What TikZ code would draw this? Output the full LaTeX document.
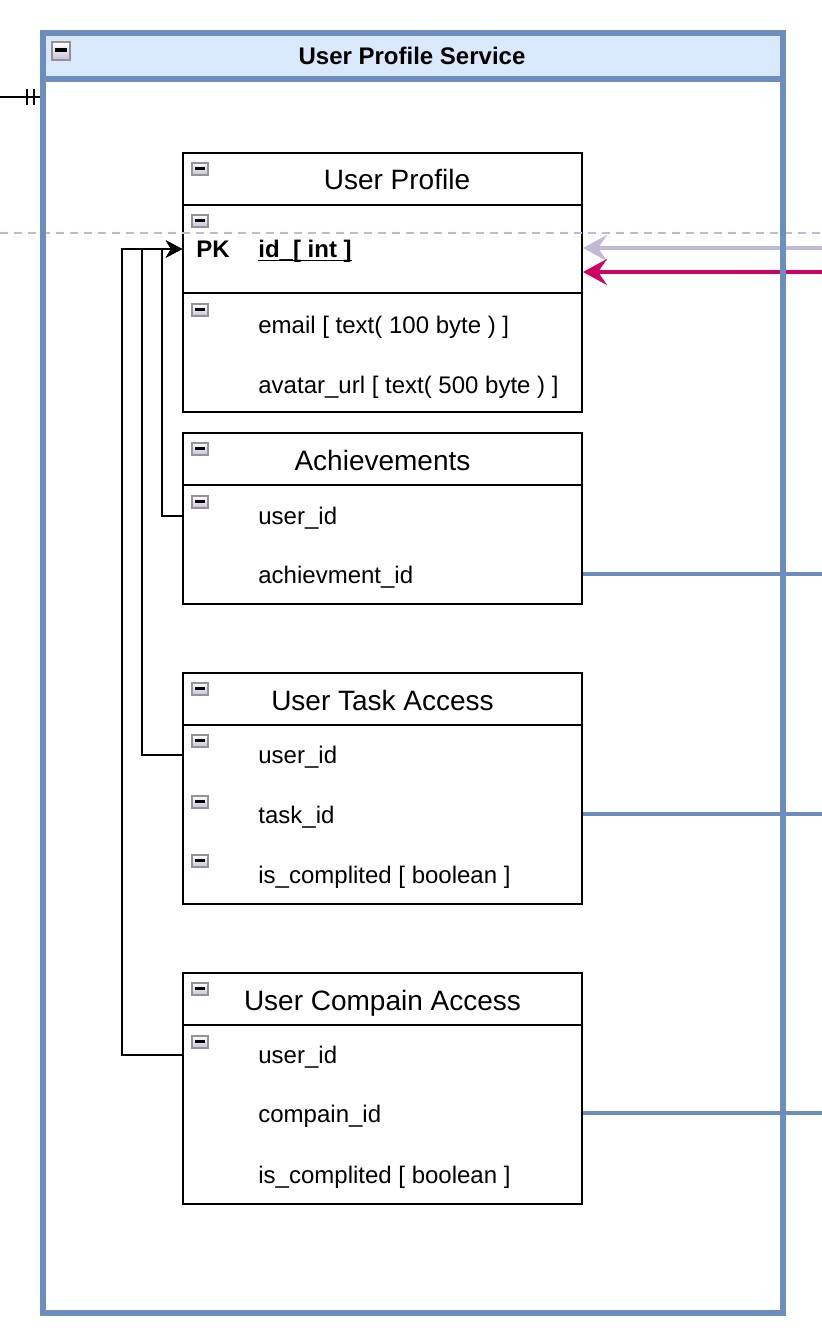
\documentclass[tikz,border=0pt]{standalone}
\usepackage{fontspec}
\setmainfont{Liberation Sans}
\usetikzlibrary{arrows.meta}
\definecolor{UPBlue}{HTML}{6C8EBF}
\definecolor{UPHead}{HTML}{DAE8FC}
\definecolor{UPLilac}{HTML}{C3B9D6}
\definecolor{UPMagenta}{HTML}{CC0066}
\definecolor{UPIcon}{HTML}{939393}
\definecolor{UPIconLow}{HTML}{C9BFDD}

\begin{document}
\begin{tikzpicture}[x=0.5pt,y=-0.5pt,
  tbl/.style={draw,line width=1pt,fill=white,rectangle,inner sep=0pt,minimum width=199.5pt},
  ttl/.style={inner sep=0pt,text height=10pt,text depth=0pt,font=\fontsize{14}{16}\selectfont},
  fld/.style={anchor=west,inner sep=0pt,text height=8.6pt,text depth=0pt,font=\fontsize{12}{14}\selectfont},
  minusbox/.style={draw=UPIcon,line width=1pt,top color=white,bottom color=UPIconLow,inner sep=0pt,
    minimum width=8pt,minimum height=6pt,
    path picture={\draw[black,line width=1.4pt] ([xshift=-2.6pt,yshift=0.4pt]path picture bounding box.center) -- ++(5.2pt,0);}},
  bigminus/.style={minusbox,minimum width=9pt,minimum height=9pt,
    path picture={\draw[black,line width=1.6pt] ([xshift=-3pt,yshift=0.5pt]path picture bounding box.center) -- ++(6pt,0);}},
  fk/.style={draw,line width=1pt,-{Stealth[length=8pt,width=8.5pt,inset=2.5pt]}},
  inlink/.style={line width=2pt,-{Stealth[length=12pt,width=13pt,inset=4.5pt]}},
  link/.style={draw=UPBlue,line width=1.75pt}]
\path[use as bounding box] (0,0) rectangle (822,1332);
\fill[white] (0,0) rectangle (822,1332);
\fill[UPHead] (43,33) rectangle (783,79);
\node[inner sep=0pt,text height=8.6pt,text depth=0pt,font=\bfseries\fontsize{12}{14}\selectfont] (svcTitle) at (412,56) {User Profile Service};
\node[bigminus] (svcIcon) at (61,51) {};

\node[tbl,minimum height=129.5pt] (up) at (382.5,282.5) {};
\draw[line width=1pt] (183,205) -- (582,205);
\draw[line width=1pt] (183,293) -- (582,293);
\node[ttl] (upTitle) at (397,180) {User Profile};
\node[minusbox] (upHeadIcon) at (200,169) {};
\node[minusbox] (upPkIcon) at (200,221) {};
\node[minusbox] (upAttrIcon) at (200,310) {};
\node[fld,font=\bfseries\fontsize{12}{14}\selectfont] (upPk) at (196,249) {PK};
\node[fld,font=\bfseries\fontsize{12}{14}\selectfont] (upId) at (258,249) {\underline{\smash{id\_[ int ]}}};
\node[fld] (upEmail) at (258,325) {email [ text( 100 byte ) ]};
\node[fld] (upAvatar) at (258,385) {avatar\_url [ text( 500 byte ) ]};

\node[tbl,minimum height=85.5pt] (achv) at (382.5,518.5) {};
\draw[line width=1pt] (183,485) -- (582,485);
\node[ttl] (achvTitle) at (382.5,460) {Achievements};
\node[minusbox] (achvHeadIcon) at (200,449) {};
\node[minusbox] (achvUserIcon) at (200,502) {};
\node[fld] (achvUser) at (258,516) {user\_id};
\node[fld] (achvAchId) at (258,575) {achievment\_id};

\node[tbl,minimum height=115.5pt] (uta) at (382.5,788.5) {};
\draw[line width=1pt] (183,725) -- (582,725);
\node[ttl] (utaTitle) at (382.5,700) {User Task Access};
\node[minusbox] (utaHeadIcon) at (200,689) {};
\node[minusbox] (utaUserIcon) at (200,741) {};
\node[minusbox] (utaTaskIcon) at (200,802) {};
\node[minusbox] (utaDoneIcon) at (200,861) {};
\node[fld] (utaUser) at (258,755) {user\_id};
\node[fld] (utaTask) at (258,815) {task\_id};
\node[fld] (utaDone) at (258,875) {is\_complited [ boolean ]};

\node[tbl,minimum height=115.5pt] (uca) at (382.5,1088.5) {};
\draw[line width=1pt] (183,1025) -- (582,1025);
\node[ttl] (ucaTitle) at (382.5,1000) {User Compain Access};
\node[minusbox] (ucaHeadIcon) at (200,989) {};
\node[minusbox] (ucaUserIcon) at (200,1042) {};
\node[fld] (ucaUser) at (258,1055) {user\_id};
\node[fld] (ucaComp) at (258,1114) {compain\_id};
\node[fld] (ucaDone) at (258,1175) {is\_complited [ boolean ]};

\draw[fk] (achvUser -| achv.west) -- ++(-20,0) |- (upId -| up.west);
\draw[fk] (utaUser -| uta.west) -- ++(-40,0) |- (upId -| up.west);
\draw[fk] (ucaUser -| uca.west) -- ++(-60,0) |- (upId -| up.west);

\coordinate (gridL) at (0,233);
\coordinate (gridR) at (822,233);
\draw[UPLilac,line width=0.75pt,dash pattern=on 4pt off 3pt] (gridL) -- (gridR);

\coordinate (lilacIn) at (822,248);
\coordinate (magentaIn) at (822,272);
\draw[inlink,UPLilac] (lilacIn) -- (lilacIn -| up.east);
\draw[inlink,UPMagenta] (magentaIn) -- (magentaIn -| up.east);

\coordinate (achvOut) at (822,574);
\coordinate (utaOut) at (822,814);
\coordinate (ucaOut) at (822,1113);
\draw[link] (achvOut -| achv.east) -- (achvOut);
\draw[link] (utaOut -| uta.east) -- (utaOut);
\draw[link] (ucaOut -| uca.east) -- (ucaOut);

\draw[UPBlue,line width=3pt] (43,79) -- (783,79);
\node[draw=UPBlue,line width=3pt,inner sep=0pt,minimum width=370pt,minimum height=640pt] (svc) at (413,673) {};

\coordinate (erIn) at (0,97);
\draw[line width=1pt] (erIn) -- (erIn -| svc.west);
\draw[line width=1pt] ([shift={(-13,-8)}]erIn -| svc.west) -- ++(0,16)
  ([shift={(-6,-8)}]erIn -| svc.west) -- ++(0,16);
\end{tikzpicture}
\end{document}
